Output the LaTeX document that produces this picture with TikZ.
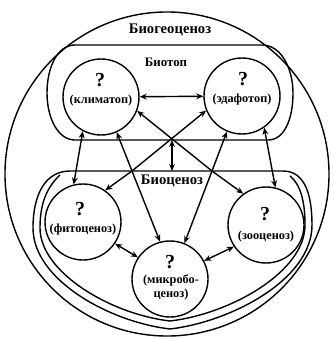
\documentclass[tikz,border=0pt]{standalone}
\usepackage{fontspec}
\setmainfont{Liberation Serif}
\usetikzlibrary{arrows.meta}

\tikzset{
  unit/.style={draw, circle, minimum size=2.28cm, inner sep=0pt},
  qm/.style={font=\bfseries\fontsize{17}{17}\selectfont},
  lbl/.style={font=\bfseries\fontsize{10.5}{12}\selectfont, align=center},
  ttl/.style={font=\bfseries\fontsize{12.5}{14}\selectfont},
}

\begin{document}
\begin{tikzpicture}[x=0.03cm, y=-0.03cm, line width=1.2pt, >={Stealth[length=6pt,width=5pt]}]
\useasboundingbox (0,0) rectangle (334,338);

% enclosures
\draw (167,174) circle (4.86cm);
\draw (75,45) -- (262,45) .. controls (282,45) and (293,70) .. (293,93)
  .. controls (293,118) and (285,140) .. (268,140) -- (75,140)
  .. controls (58,140) and (47,118) .. (47,93)
  .. controls (47,68) and (57,45) .. (75,45) -- cycle;
\draw (283,171) -- (70,171) .. controls (45,171) and (33,195) .. (33,228)
  .. controls (33,280) and (110,322) .. (170,329)
  .. controls (230,322) and (312,280) .. (312,225)
  .. controls (312,195) and (305,171) .. (283,171);
\draw (60,175) .. controls (46,188) and (40,205) .. (40,228)
  .. controls (40,272) and (110,314) .. (170,321)
  .. controls (230,314) and (305,272) .. (305,225)
  .. controls (305,200) and (300,184) .. (290,176);

\node[ttl] (bgc) at (170,30) {Биогеоценоз};
\node[ttl, font=\bfseries\fontsize{11}{13}\selectfont] (btp) at (166,62) {Биотоп};
\node[ttl] (bcn) at (172,181) {Биоценоз};

% components
\node[unit] (clim) at (101,97) {};
\node[unit] (edaf) at (242,96) {};
\node[unit] (phyto) at (83,222) {};
\node[unit] (zoo) at (266,225) {};
\node[unit] (micro) at (170,279) {};

\node[qm] (climq) at (100,80) {?};
\node[lbl] (climl) at (101,101) {(климатоп)};
\node[qm] (edafq) at (243,79) {?};
\node[lbl] (edafl) at (242,100) {(эдафотоп)};
\node[qm] (phytoq) at (80,209) {?};
\node[lbl] (phytol) at (83,230) {(фитоценоз)};
\node[qm] (zooq) at (265,214) {?};
\node[lbl] (zool) at (266,237) {(зооценоз)};
\node[qm] (microq) at (170,262) {?};
\node[lbl] (microl) at (171,287) {(микробо-\\ценоз)};

\coordinate (j1) at (132,171);
\coordinate (j2) at (212,171);
\coordinate (tb) at (172,140);
\coordinate (bt) at (172,171);

% links
\draw[<->] (clim) -- (edaf);
\draw[<->] (tb) -- (bt);
\draw[<->] (clim.-118) -- (phyto.104);
\draw[<->] (edaf.-55) -- (zoo.76);
\draw[->] (j1) -- (clim.-66);
\draw[->] (j1) -- (edaf.-158);
\draw[->] (j1) -- (phyto.55);
\draw[->] (j1) -- (micro.105);
\draw[->] (j2) -- (clim.-21);
\draw[->] (j2) -- (edaf.-113);
\draw[->] (j2) -- (micro.68);
\draw[->] (j2) -- (zoo.126);
\draw[<->] (phyto.-34) -- (micro.146);
\draw[<->] (zoo.-146) -- (micro.28);

\end{tikzpicture}
\end{document}
